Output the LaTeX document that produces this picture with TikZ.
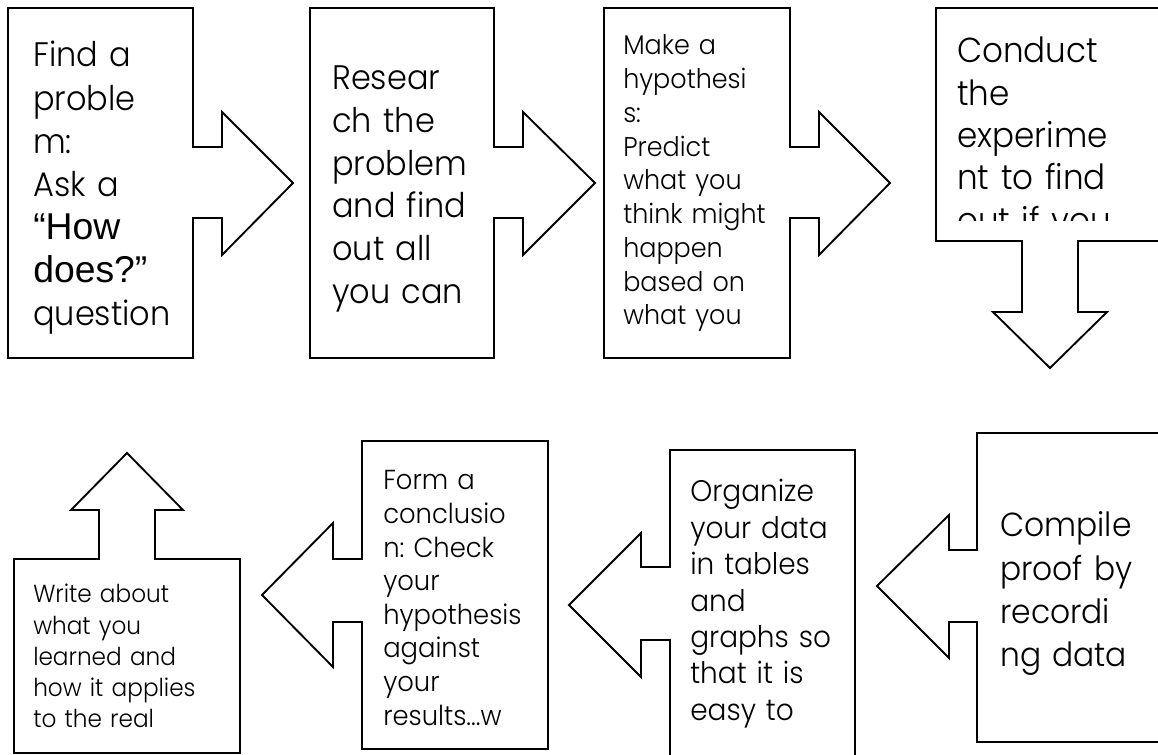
\documentclass[tikz,border=0pt]{standalone}
\usepackage{fontspec}
\setmainfont{Poppins}[UprightFont=* Light, FakeStretch=0.94]
\newfontfamily\quotefont{Liberation Sans}
\newcommand\stepsize[2]{\fontsize{#1}{#2}\selectfont}
\frenchspacing
\tikzset{
    stepshape/.style={draw, line width=1.4pt, line join=miter},
    steptext/.style={anchor=base west, inner sep=0pt, align=left, text width=8cm},
}
\begin{document}
\begin{tikzpicture}[x=0.75pt, y=-0.75pt]
        \useasboundingbox (0, 0) rectangle (1158, 755);
        \clip (0, 0) rectangle (1158, 755);

        % Top row
        \draw[stepshape] (8, 8) -- (193, 8) -- (193, 147) -- (222, 147) -- (222, 112) -- (293, 183)
            -- (222, 255) -- (222, 218) -- (193, 218) -- (193, 358) -- (8, 358) -- cycle;
        \draw[stepshape] (310, 8) -- (494, 8) -- (494, 147) -- (523, 147) -- (523, 112) -- (595, 183)
            -- (523, 255) -- (523, 218) -- (494, 218) -- (494, 358) -- (310, 358) -- cycle;
        \draw[stepshape] (604, 8) -- (790, 8) -- (790, 147) -- (819, 147) -- (819, 112) -- (890, 183)
            -- (819, 255) -- (819, 218) -- (790, 218) -- (790, 358) -- (604, 358) -- cycle;
        \draw[stepshape] (936, 8) -- (1166, 8) -- (1166, 241) -- (1078, 241) -- (1078, 312) -- (1107, 312)
            -- (1050, 368) -- (993, 312) -- (1022, 312) -- (1022, 241) -- (936, 241) -- cycle;

        % Bottom row
        \draw[stepshape] (1170, 433) -- (977, 433) -- (977, 550) -- (949, 550) -- (949, 515) -- (877, 586)
            -- (949, 658) -- (949, 622) -- (977, 622) -- (977, 742) -- (1170, 742) -- cycle;
        \draw[stepshape] (855, 450) -- (855, 770) -- (670, 770) -- (670, 640) -- (641, 640) -- (641, 677)
            -- (569, 605) -- (641, 533) -- (641, 567) -- (670, 567) -- (670, 450) -- cycle;
        \draw[stepshape] (362, 441) -- (548, 441) -- (548, 749) -- (362, 749) -- (362, 622) -- (333, 622)
            -- (333, 667) -- (262, 595) -- (333, 523) -- (333, 559) -- (362, 559) -- cycle;
        \draw[stepshape] (14, 559) -- (99, 559) -- (99, 510) -- (71, 510) -- (127, 453) -- (183, 510)
            -- (155, 510) -- (155, 559) -- (240, 559) -- (240, 753) -- (14, 753) -- cycle;

        % Texts
        \node[steptext, font=\stepsize{25.5}{32.3}] (problem) at (33, 67)
            {Find a\\proble\\m:\\Ask a\\{\quotefont\stepsize{28}{32.3}“How}\\{\quotefont\stepsize{28}{32.3}does?”}\\question};
        \node[steptext, font=\stepsize{25.5}{32}] (research) at (332, 90)
            {Resear\\ch the\\problem\\and find\\out all\\you can};
        \node[steptext, font=\stepsize{20.3}{25.3}] (hypothesis) at (623, 55)
            {Make a\\hypothesi\\s:\\Predict\\what you\\think might\\happen\\based on\\what you};
        \begin{scope}
            \clip (936, 8) rectangle (1166, 221);
            \node[steptext, font=\stepsize{26}{31.7}] (experiment) at (957, 63)
                {Conduct\\the\\experime\\nt to find\\out if you};
        \end{scope}
        \node[steptext, font=\stepsize{25}{32.5}] (compile) at (1000, 537)
            {Compile\\proof by\\recordi\\ng data};
        \node[steptext, font=\stepsize{22.3}{27.3}] (organize) at (690, 502)
            {Organize\\your data\\in tables\\and\\graphs so\\that it is\\easy to};
        \node[steptext, font=\stepsize{20.6}{25.2}] (conclusion) at (383, 490)
            {Form a\\conclusio\\n: Check\\your\\hypothesis\\against\\your\\results...w};
        \node[steptext, font=\stepsize{18.5}{23.3}] (write) at (33, 603)
            {Write about\\what you\\learned and\\how it applies\\to the real};
\end{tikzpicture}
\end{document}
